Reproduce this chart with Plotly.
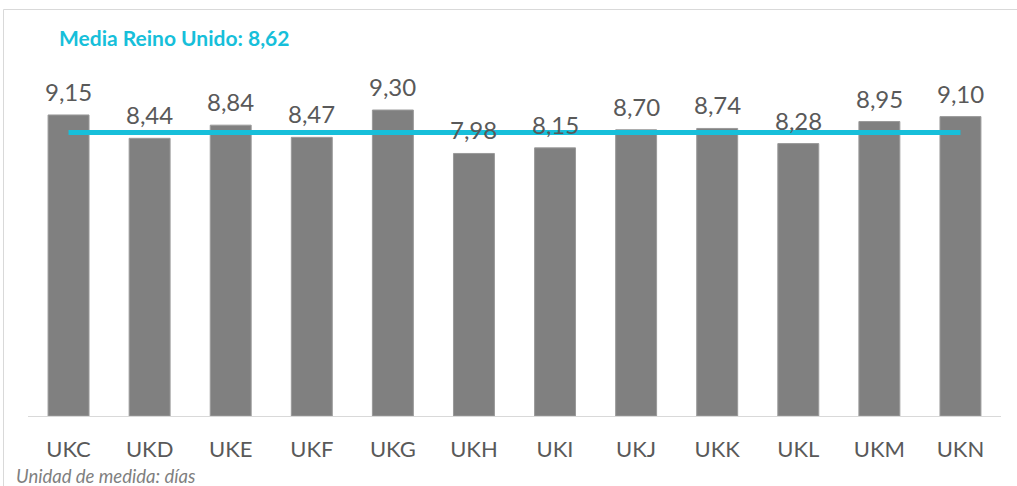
import plotly.graph_objects as go

categories = ["UKC", "UKD", "UKE", "UKF", "UKG", "UKH", "UKI", "UKJ", "UKK", "UKL", "UKM", "UKN"]
values = [9.15, 8.44, 8.84, 8.47, 9.30, 7.98, 8.15, 8.70, 8.74, 8.28, 8.95, 9.10]
uk_mean = 8.62
title_text = "Media Reino Unido: 8,62"
footnote = "Unidad de medida: días"

W, H = 1017, 486
L, R, T, B = 28, 16, 87, 70
pw, ph = W - L - R, H - T - B

def px_x(p):
    return (p - L) / pw

def px_y(p):
    return (H - B - p) / ph

labels = [f"{v:.2f}".replace(".", ",") for v in values]

fig = go.Figure()
fig.add_trace(go.Bar(
    x=categories, y=values,
    marker=dict(color="#808080", line=dict(color="#9a9a9a", width=1)),
    hoverinfo="skip",
))
fig.add_trace(go.Scatter(
    x=[categories[0], categories[-1]], y=[uk_mean, uk_mean],
    mode="lines", line=dict(color="#17BFDA", width=5),
    hoverinfo="skip",
))

annotations = [
    dict(x=c, y=v, text=t, xref="x", yref="y", showarrow=False,
         xanchor="center", yanchor="bottom", yshift=7,
         font=dict(family="Lato", size=24, color="#595959"))
    for c, v, t in zip(categories, values, labels)
]
annotations += [
    dict(text=f"<b>{title_text}</b>", xref="paper", yref="paper",
         x=px_x(57), y=px_y(37), xanchor="left", yanchor="middle",
         showarrow=False, font=dict(family="Lato", size=21, color="#17BFDA")),
    dict(text=f"<i>{footnote}</i>", xref="paper", yref="paper",
         x=px_x(14), y=px_y(476), xanchor="left", yanchor="middle",
         showarrow=False, font=dict(family="Lato", size=18.5, color="#7F7F7F")),
]

fig.update_layout(
    width=W, height=H,
    margin=dict(l=L, r=R, t=T, b=B),
    paper_bgcolor="white", plot_bgcolor="white",
    showlegend=False,
    bargap=0.495,
    xaxis=dict(
        showgrid=False, showline=True, linecolor="#D9D9D9", linewidth=1,
        ticks="", tickfont=dict(family="Lato", size=22, color="#595959"),
        ticklabelstandoff=14,
    ),
    yaxis=dict(range=[0, 10], visible=False),
    shapes=[dict(
        type="rect", xref="paper", yref="paper",
        x0=px_x(3.5), x1=px_x(1030), y0=px_y(500), y1=px_y(9.5),
        line=dict(color="#D9D9D9", width=1), fillcolor="rgba(0,0,0,0)",
        layer="below",
    )],
    annotations=annotations,
)

fig.write_html("out.html", config={"displayModeBar": False},
               post_script="document.body.style.margin='0';document.body.style.overflow='hidden';")
